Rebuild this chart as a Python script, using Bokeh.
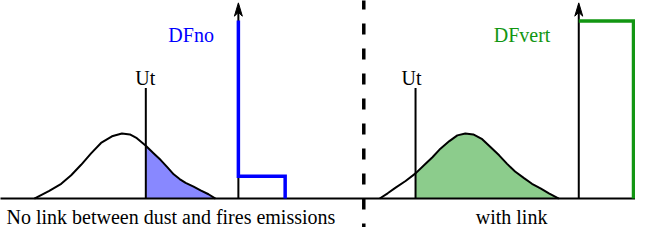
import numpy as np
from bokeh.plotting import figure
from bokeh.models import Range1d
from bokeh.core.properties import value
from bokeh.embed import file_html
from bokeh.resources import INLINE

# ---- schematic data (x: horizontal position, y: height above the baseline) ----
left_curve_x = [40, 55, 67, 77, 87, 97, 107, 118, 128, 136, 143, 152, 160, 167, 174,
                180, 186, 192, 200, 207, 215, 222]
left_curve_y = [0, 8, 15.5, 24.5, 35.5, 47.5, 58.5, 65.5, 68.5, 67.5, 63.5, 55.5, 47.5,
                40.5, 32.5, 25.5, 20.5, 16.5, 12.5, 8.5, 4.5, 0]
right_curve_x = [387, 395, 403, 413, 423, 432, 440, 448, 457, 465, 473, 481, 490, 498,
                 507, 515, 523, 532, 540, 549, 557, 567]
right_curve_y = [0, 5.5, 11.5, 18.5, 26.5, 35.5, 43.5, 52.5, 60.5, 66.5, 68.5, 67.5, 62.5,
                 54.5, 45.5, 36.5, 28.5, 21.5, 15.5, 10.5, 5.5, 0]

ut_positions = [152, 423]
ut_top = 116.5
ut_labels = ["Ut", "Ut"]
ut_label_x = [151.5, 419]
ut_label_y = [126.5, 126.5]

axis_x = [245, 587]
axis_top = 206

dfno_x = [245, 245, 292, 292]
dfno_y = [187.5, 23.5, 23.5, 0]
dfvert_x = [587, 642, 642]
dfvert_y = [186.8, 186.8, 0]

baseline_x = [0, 660]
divider_x = 371
divider_y = [210.5, -40]

df_labels = ["DFno", "DFvert"]
df_label_x = [197.5, 530]
df_label_y = [172.5, 172.5]

bottom_labels = ["No link between dust and fires emissions", "with link"]
bottom_label_x = [12, 519.5]
bottom_label_y = [-19, -19]

BLUE = "#0000ff"
BLUE_FILL = "#8888ff"
GREEN = "#129612"
GREEN_FILL = "#8ccc8c"
FONT = value("Liberation Serif")

p = figure(width=635, height=227, output_backend="svg", toolbar_location=None,
           x_range=Range1d(6, 644), y_range=Range1d(-30.5, 208.5), min_border=0)
p.axis.visible = False
p.grid.visible = False
p.outline_line_color = None
p.background_fill_color = "white"
p.border_fill_color = "white"


def tail(xs, ys, ut):
    xs = np.asarray(xs, float)
    ys = np.asarray(ys, float)
    m = xs > ut
    fx = np.concatenate([[ut], xs[m]])
    fy = np.concatenate([[np.interp(ut, xs, ys)], ys[m]])
    return fx, fy


# filled tails beyond the threshold
fx, fy = tail(left_curve_x, left_curve_y, ut_positions[0])
p.varea(x=fx, y1=0, y2=fy, fill_color=BLUE_FILL)
fx, fy = tail(right_curve_x, right_curve_y, ut_positions[1])
p.varea(x=fx, y1=0, y2=fy, fill_color=GREEN_FILL)

# bell curves
p.line(left_curve_x, left_curve_y, line_color="black", line_width=2)
p.line(right_curve_x, right_curve_y, line_color="black", line_width=2)

# threshold lines
p.segment(x0=ut_positions, y0=[0, 0], x1=ut_positions, y1=[ut_top, ut_top],
          line_color="black", line_width=2)

# baseline
p.line(baseline_x, [0, 0], line_color="black", line_width=2)

# vertical axes with arrow heads
head_len, head_half, head_notch = 14, 4, 10
p.segment(x0=axis_x, y0=[0, 0], x1=axis_x, y1=[axis_top - 6, axis_top - 6],
          line_color="black", line_width=2)
p.patches(xs=[[x, x - head_half, x, x + head_half] for x in axis_x],
          ys=[[axis_top, axis_top - head_len, axis_top - head_notch, axis_top - head_len]
              for _ in axis_x],
          fill_color="black", line_color="black", line_width=1)

# distributions
p.line(dfno_x, dfno_y, line_color=BLUE, line_width=3.5, line_join="miter")
p.line(dfvert_x, dfvert_y, line_color=GREEN, line_width=3.5, line_join="miter")

# dashed divider
p.line([divider_x, divider_x], divider_y, line_color="black", line_width=3.5,
       line_dash="11 14")

# texts
p.text(x=ut_label_x, y=ut_label_y, text=ut_labels, text_font=FONT,
       text_font_size="20px", text_align="center", text_baseline="alphabetic",
       text_color="black")
p.text(x=[df_label_x[0]], y=[df_label_y[0]], text=[df_labels[0]], text_font=FONT,
       text_font_size="20px", text_align="center", text_baseline="alphabetic",
       text_color=BLUE)
p.text(x=[df_label_x[1]], y=[df_label_y[1]], text=[df_labels[1]], text_font=FONT,
       text_font_size="20px", text_align="center", text_baseline="alphabetic",
       text_color=GREEN)
p.text(x=[bottom_label_x[0]], y=[bottom_label_y[0]], text=[bottom_labels[0]],
       text_font=FONT, text_font_size="20px", text_align="left",
       text_baseline="alphabetic", text_color="black")
p.text(x=[bottom_label_x[1]], y=[bottom_label_y[1]], text=[bottom_labels[1]],
       text_font=FONT, text_font_size="20px", text_align="center",
       text_baseline="alphabetic", text_color="black")

open("out.html", "w").write(file_html(p, INLINE))
